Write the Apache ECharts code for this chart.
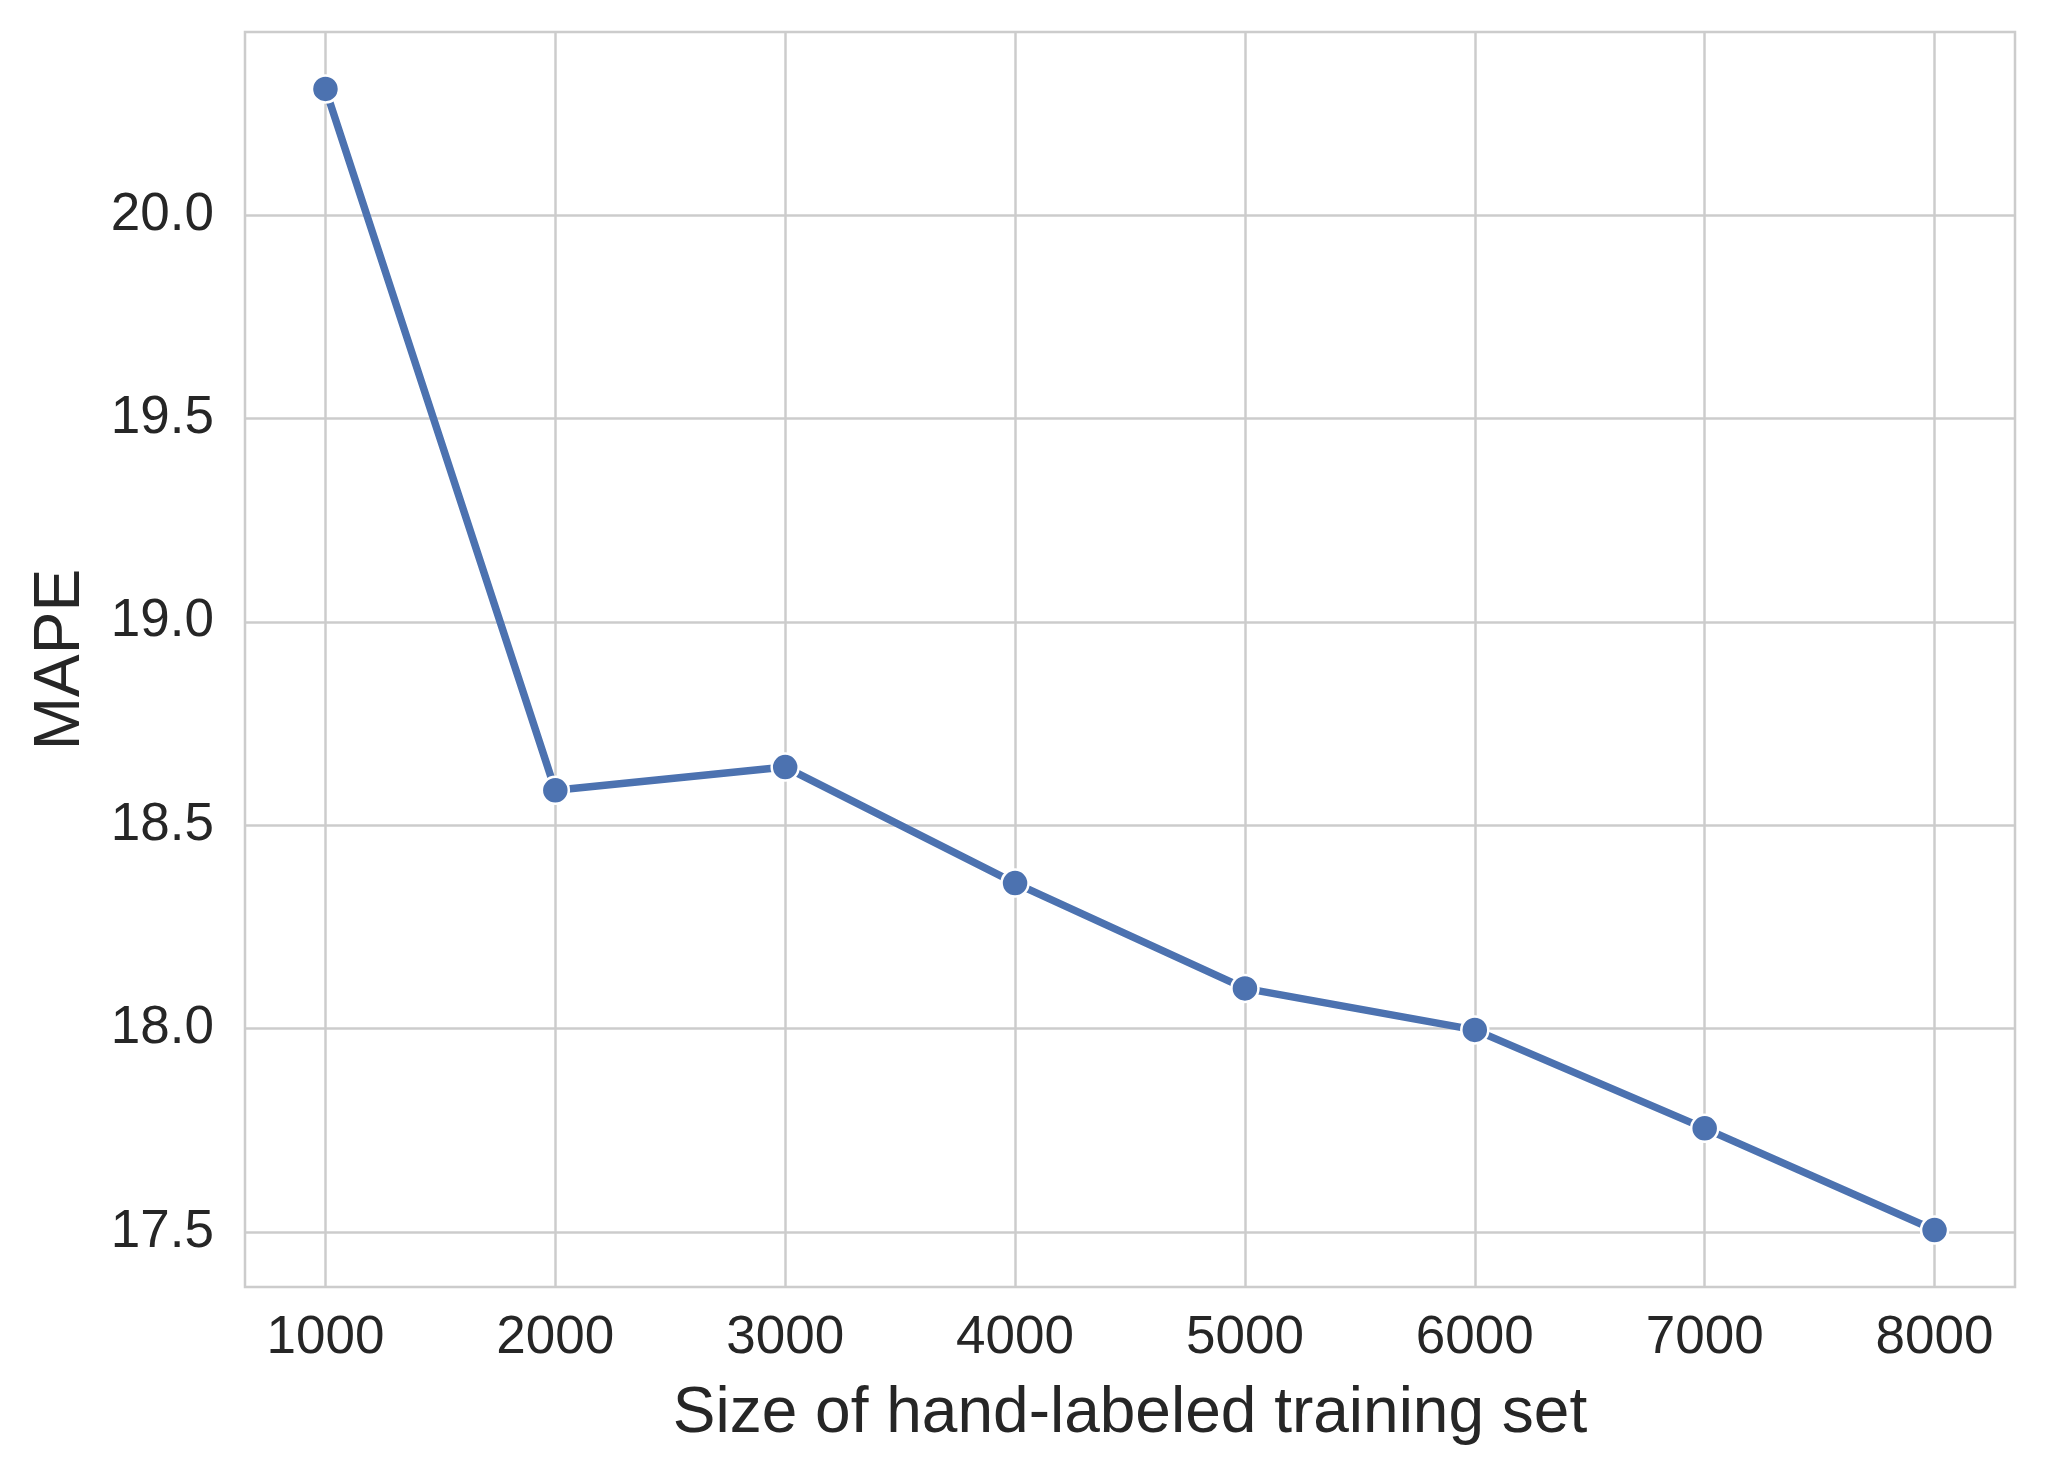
<!DOCTYPE html>
<html>
<head>
<meta charset="utf-8">
<script src="https://cdn.jsdelivr.net/npm/echarts@6/dist/echarts.min.js"></script>
<style>
  html, body { margin: 0; padding: 0; background: #ffffff; }
  #chart { width: 2048px; height: 1480px; }
</style>
</head>
<body>
<div id="chart"></div>
<script>
const trainingSizes = [1000, 2000, 3000, 4000, 5000, 6000, 7000, 8000];
const mapeValues = [20.31, 18.586, 18.643, 18.358, 18.099, 17.997, 17.755, 17.505];
const xTicks = [1000, 2000, 3000, 4000, 5000, 6000, 7000, 8000];
const yTicks = [17.5, 18.0, 18.5, 19.0, 19.5, 20.0];

const textColor = '#262626';
const gridColor = '#cccccc';
const fontFamily = '"Liberation Sans", Arial, sans-serif';

const chart = echarts.init(document.getElementById('chart'), null, { renderer: 'canvas' });
chart.setOption({
  backgroundColor: '#ffffff',
  animation: false,
  grid: {
    left: 245, right: 33, top: 32, bottom: 193,
    show: true, borderColor: gridColor, borderWidth: 2.5, backgroundColor: 'transparent'
  },
  xAxis: {
    type: 'value',
    min: 650, max: 8350,
    name: 'Size of hand-labeled training set',
    nameLocation: 'middle',
    nameGap: 95,
    nameTextStyle: { fontSize: 64, color: textColor, fontFamily: fontFamily },
    axisLine: { show: false },
    axisTick: { show: false, customValues: xTicks },
    axisLabel: {
      customValues: xTicks,
      fontSize: 53, color: textColor, fontFamily: fontFamily, margin: 25,
      formatter: v => String(v)
    },
    splitLine: { show: true, lineStyle: { color: gridColor, width: 2.5 } }
  },
  yAxis: {
    type: 'value',
    min: 17.365, max: 20.45,
    name: 'MAPE',
    nameLocation: 'middle',
    nameGap: 152,
    nameRotate: 90,
    nameTextStyle: { fontSize: 64, color: textColor, fontFamily: fontFamily },
    axisLine: { show: false },
    axisTick: { show: false, customValues: yTicks },
    axisLabel: {
      customValues: yTicks,
      fontSize: 53, color: textColor, fontFamily: fontFamily, margin: 31,
      formatter: v => v.toFixed(1)
    },
    splitLine: { show: true, lineStyle: { color: gridColor, width: 2.5 } }
  },
  series: [{
    type: 'line',
    data: trainingSizes.map((x, i) => [x, mapeValues[i]]),
    lineStyle: { color: '#4c72b0', width: 7.5 },
    itemStyle: { color: '#4c72b0', borderColor: '#ffffff', borderWidth: 2.5 },
    symbol: 'circle',
    symbolSize: 27,
    showSymbol: true,
    z: 3
  }]
});
</script>
</body>
</html>
